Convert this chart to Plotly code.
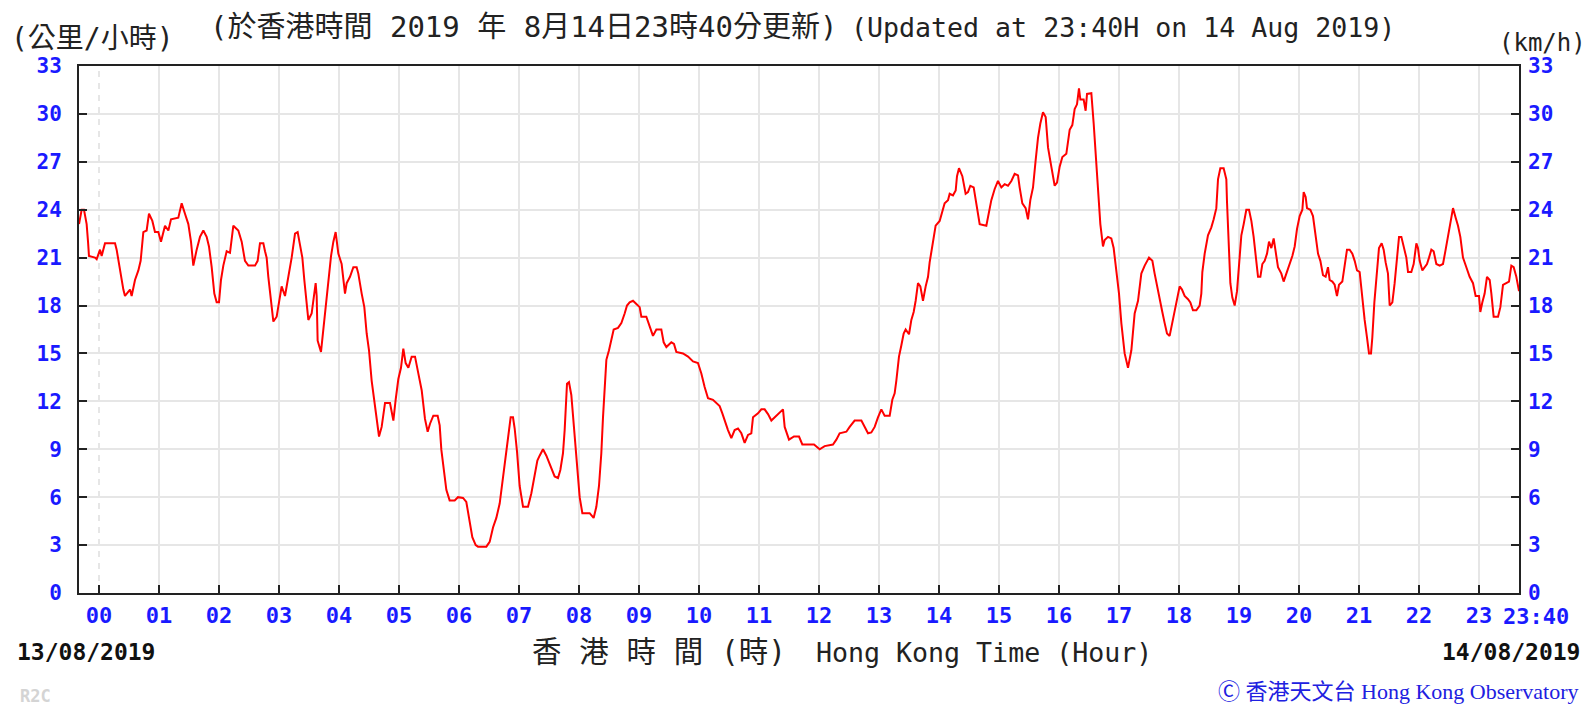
import plotly.graph_objects as go

# ---------------- data (hour of day on 14/08/2019, wind speed km/h) ----------------
time_hours = [
    -0.333, -0.289, -0.25, -0.206, -0.183, -0.167, -0.067, -0.039, 0.017, 0.044, 0.1, 0.267, 0.294,
    0.333, 0.378, 0.406, 0.433, 0.517, 0.544, 0.6, 0.656, 0.694, 0.739, 0.794, 0.833, 0.889, 0.933,
    0.989, 1.033, 1.061, 1.1, 1.156, 1.2, 1.322, 1.378, 1.433, 1.489, 1.533, 1.572, 1.628, 1.683,
    1.739, 1.794, 1.833, 1.878, 1.922, 1.961, 2.0, 2.033, 2.072, 2.128, 2.183, 2.239, 2.322, 2.378,
    2.433, 2.489, 2.6, 2.644, 2.683, 2.739, 2.767, 2.794, 2.822, 2.867, 2.906, 2.961, 3.0, 3.044,
    3.1, 3.156, 3.211, 3.267, 3.311, 3.35, 3.389, 3.422, 3.461, 3.489, 3.544, 3.572, 3.611, 3.628,
    3.644, 3.7, 3.739, 3.778, 3.822, 3.867, 3.906, 3.944, 3.989, 4.044, 4.1, 4.128, 4.183, 4.239,
    4.294, 4.322, 4.378, 4.422, 4.461, 4.5, 4.544, 4.589, 4.628, 4.667, 4.711, 4.767, 4.85, 4.906,
    4.944, 4.989, 5.033, 5.072, 5.111, 5.156, 5.211, 5.267, 5.322, 5.378, 5.433, 5.478, 5.517,
    5.572, 5.644,
    5.678, 5.706, 5.744, 5.789, 5.844, 5.928, 5.983, 6.067, 6.122, 6.167, 6.222, 6.278, 6.317,
    6.456, 6.511, 6.567, 6.622, 6.678, 6.733, 6.778, 6.817, 6.861, 6.9, 6.928, 6.967, 7.011, 7.067,
    7.15, 7.206, 7.261, 7.306, 7.344, 7.4, 7.456, 7.511, 7.594, 7.65, 7.689, 7.733, 7.761, 7.8,
    7.833, 7.872, 7.911, 7.956, 8.011, 8.056, 8.178, 8.244, 8.289, 8.333, 8.372, 8.4, 8.428, 8.456,
    8.5, 8.539, 8.578, 8.65, 8.706, 8.761, 8.8, 8.844, 8.9, 8.956, 9.011, 9.039, 9.122, 9.178,
    9.233, 9.289, 9.372, 9.411, 9.456, 9.539, 9.583, 9.622, 9.733, 9.817, 9.9, 9.983, 10.039,
    10.094, 10.15, 10.233, 10.289, 10.344, 10.389, 10.444, 10.483, 10.539, 10.594, 10.65, 10.706,
    10.761, 10.817, 10.872, 10.9, 10.983, 11.039, 11.094, 11.15, 11.206, 11.261, 11.344, 11.4,
    11.428, 11.5, 11.583, 11.667, 11.722, 11.917,
    12.011, 12.094, 12.233, 12.289, 12.344, 12.456, 12.511, 12.594, 12.706, 12.761, 12.817, 12.872,
    12.928, 12.983, 13.039, 13.094, 13.178, 13.222, 13.261, 13.289, 13.333, 13.372, 13.411, 13.444,
    13.5, 13.539, 13.578, 13.611, 13.65, 13.689, 13.733, 13.778, 13.817, 13.844, 13.889, 13.944,
    14.011, 14.056, 14.094, 14.15, 14.178, 14.233, 14.278, 14.3, 14.333, 14.389, 14.444, 14.483,
    14.522, 14.578, 14.622, 14.678, 14.789, 14.833, 14.872, 14.928, 14.983, 15.039, 15.094, 15.15,
    15.206, 15.261, 15.317, 15.344, 15.389, 15.444, 15.483, 15.522, 15.567, 15.611, 15.65, 15.689,
    15.733, 15.778, 15.817, 15.872, 15.928, 15.967, 16.011, 16.056, 16.122, 16.178, 16.222, 16.261,
    16.3, 16.333, 16.356, 16.411, 16.444, 16.467, 16.539, 16.578, 16.611, 16.65, 16.689, 16.733,
    16.761, 16.817, 16.872, 16.911, 16.956, 17.0, 17.039, 17.094, 17.15, 17.206, 17.261, 17.317,
    17.372, 17.428, 17.5,
    17.556, 17.594, 17.633, 17.678, 17.722, 17.761, 17.8, 17.844, 17.889, 17.928, 17.967, 18.011,
    18.05, 18.094, 18.15, 18.189, 18.233, 18.289, 18.344, 18.372, 18.389, 18.428, 18.483, 18.539,
    18.578, 18.622, 18.65, 18.689, 18.744, 18.789, 18.8, 18.833, 18.856, 18.889, 18.928, 18.967,
    19.0, 19.039, 19.078, 19.122, 19.167, 19.206, 19.244, 19.278, 19.317, 19.356, 19.389, 19.428,
    19.467, 19.5, 19.539, 19.578, 19.611, 19.65, 19.706, 19.744, 19.789, 19.844, 19.889, 19.928,
    19.967, 20.011, 20.056, 20.078, 20.111, 20.133, 20.189, 20.233, 20.278, 20.317, 20.356, 20.4,
    20.444, 20.483, 20.511, 20.556, 20.594, 20.633, 20.667, 20.722, 20.761, 20.8, 20.844, 20.889,
    20.928, 20.967, 21.011, 21.056, 21.094, 21.133, 21.167, 21.2, 21.222, 21.256, 21.289, 21.333,
    21.378, 21.411, 21.444, 21.483, 21.511, 21.556, 21.594, 21.633, 21.667, 21.706, 21.744, 21.789,
    21.817, 21.872, 21.911, 21.956, 21.983, 22.011, 22.056, 22.094, 22.133, 22.167, 22.206, 22.244,
    22.289, 22.344, 22.4, 22.444, 22.483, 22.528, 22.567, 22.611, 22.65, 22.689, 22.733, 22.789,
    22.844, 22.9, 22.944, 23.0, 23.022, 23.056, 23.094, 23.133, 23.178, 23.206, 23.244, 23.317,
    23.356, 23.4, 23.444, 23.5, 23.539, 23.578, 23.622, 23.667,
]

wind_kmh = [
    23.1, 24.0, 24.0, 23.1, 22.0, 21.1, 21.0, 20.9, 21.5, 21.1, 21.9, 21.9, 21.5,
    20.6, 19.8, 19.0, 18.6, 19.0, 18.6, 19.6, 20.2, 20.8, 22.6, 22.7, 23.75, 23.3, 22.6,
    22.6, 22.0, 22.4, 23.0, 22.7, 23.4, 23.5, 24.4, 23.75, 23.1, 22.0, 20.5, 21.5, 22.3,
    22.7, 22.3, 21.7, 20.4, 18.75, 18.2, 18.2, 19.6, 20.5, 21.4, 21.3, 23.0, 22.7, 22.0,
    20.8, 20.5, 20.5, 20.8, 21.9, 21.9, 21.4, 21.0, 19.8, 18.2, 17.0, 17.3, 18.3, 19.2,
    18.6, 19.8, 21.0, 22.5, 22.6, 21.8, 21.0, 19.6, 17.9, 17.1, 17.5, 18.3, 19.4, 18.6,
    15.8, 15.1, 16.5, 17.7, 19.1, 21.1, 22.0, 22.6, 21.25, 20.6, 18.75, 19.4, 19.8, 20.4,
    20.4, 20.0, 18.75, 17.9, 16.25, 15.2, 13.3, 12.0, 10.8, 9.8, 10.4, 11.9, 11.9, 10.8,
    12.1, 13.4, 14.1, 15.3, 14.4, 14.1, 14.8, 14.8, 13.75, 12.7, 10.9, 10.1, 10.6,
    11.1, 11.1,
    10.5, 8.96, 7.7, 6.46, 5.8, 5.8, 6.0, 5.95, 5.7, 4.6, 3.5, 3.0, 2.9,
    2.9, 3.2, 4.1, 4.7, 5.6, 7.2, 8.75, 9.8, 11.0, 11.0, 10.3, 8.85, 6.7, 5.4,
    5.4, 6.25, 7.3, 8.3, 8.6, 9.0, 8.6, 8.1, 7.3, 7.2, 7.7, 8.75, 10.2, 13.1,
    13.2, 12.4, 10.6, 8.75, 6.0, 5.0, 5.0, 4.7, 5.4, 6.7, 8.75, 11.0, 12.7, 14.6,
    15.2, 15.8, 16.5, 16.6, 16.9, 17.5, 18.0, 18.2, 18.3, 18.1, 17.9, 17.3, 17.3, 16.7,
    16.1, 16.5, 16.5, 15.7, 15.4, 15.7, 15.6, 15.1, 15.0, 14.8, 14.5, 14.4, 13.75,
    12.9, 12.2, 12.1, 11.9, 11.7, 11.25, 10.6, 10.2, 9.7, 10.2, 10.3, 10.0,
    9.4, 9.9, 10.0, 11.0, 11.25, 11.5, 11.5, 11.2, 10.8, 11.0, 11.25, 11.5,
    10.4, 9.6, 9.8, 9.8, 9.3, 9.3,
    9.0, 9.2, 9.3, 9.6, 10.0, 10.1, 10.4, 10.8, 10.8, 10.4, 10.0, 10.05,
    10.4, 11.0, 11.5, 11.1, 11.1, 12.1, 12.5, 13.3, 14.8, 15.5, 16.25, 16.5,
    16.2, 17.1, 17.6, 18.3, 19.4, 19.2, 18.3, 19.2, 19.8, 20.7, 21.8, 23.0,
    23.3, 23.9, 24.4, 24.6, 25.0, 24.9, 25.2, 26.1, 26.6, 26.1, 25.0, 25.1,
    25.5, 25.4, 24.4, 23.1, 23.0, 24.0, 24.6, 25.3, 25.8, 25.4, 25.6, 25.5,
    25.8, 26.25, 26.15, 25.4, 24.4, 24.1, 23.4, 24.6, 25.4, 27.1, 28.5, 29.4,
    30.1, 29.8, 27.9, 26.7, 25.5, 25.7, 26.7, 27.3, 27.5, 29.0, 29.3, 30.3,
    30.6, 31.6, 30.9, 30.9, 30.2, 31.25, 31.3, 29.4, 27.3, 24.8, 23.1, 21.7,
    22.1, 22.3, 22.2, 21.6, 20.2, 18.75, 16.9, 15.0, 14.1, 15.2, 17.5, 18.3,
    20.0, 20.5, 21.0,
    20.8, 20.0, 19.2, 18.3, 17.6, 16.9, 16.25, 16.1, 16.9, 17.6, 18.3, 19.2,
    19.0, 18.6, 18.4, 18.2, 17.7, 17.7, 18.0, 18.75, 20.1, 21.25, 22.4, 22.9,
    23.4, 24.1, 25.9, 26.6, 26.6, 25.9, 24.5, 21.7, 19.4, 18.5, 18.0, 18.9,
    20.5, 22.4, 23.1, 24.0, 24.0, 23.3, 22.3, 21.0, 19.8, 19.8, 20.6, 20.8,
    21.25, 22.0, 21.6, 22.2, 21.35, 20.4, 20.0, 19.5, 20.0, 20.6, 21.1, 21.7,
    22.8, 23.6, 24.0, 25.1, 24.8, 24.1, 24.0, 23.6, 22.5, 21.25, 20.8, 19.9,
    19.8, 20.4, 19.6, 19.5, 19.3, 18.6, 19.3, 19.5, 20.5, 21.5, 21.5, 21.25,
    20.8, 20.2, 20.1, 18.2, 17.1, 16.0, 15.0, 15.0, 16.0, 18.2, 19.5, 21.6,
    21.9, 21.5, 20.7, 20.0, 18.0, 18.2, 19.4, 21.0, 22.3, 22.3, 21.7, 21.0,
    20.1, 20.1, 20.6, 21.9, 21.6, 20.8, 20.2, 20.4, 20.6, 21.0, 21.5, 21.4,
    20.6, 20.5, 20.6, 21.5, 22.4, 23.2, 24.1, 23.5, 23.0, 22.3, 21.0, 20.4,
    19.8, 19.4, 18.6, 18.6, 17.6, 18.2, 18.75, 19.8, 19.6, 18.75, 17.3, 17.3,
    17.9, 19.3, 19.4, 19.5, 20.5, 20.4, 19.8, 18.9,
]

hour_ticks = list(range(0, 24))
hour_labels = [f"{h:02d}" for h in hour_ticks]
end_label = "23:40"
x_range = [-1 / 3, 23 + 2 / 3]
speed_ticks = list(range(0, 34, 3))
speed_labels = [str(v) for v in speed_ticks]

title_zh = "(於香港時間 2019 年 8月14日23時40分更新)"
title_en = "(Updated at 23:40H on 14 Aug 2019)"
unit_zh = "(公里/小時)"
unit_en = "(km/h)"
xtitle_zh = "香\u00a0港\u00a0時\u00a0間\u00a0(時)"
xtitle_en = "Hong Kong Time (Hour)"
date_start = "13/08/2019"
date_end = "14/08/2019"
code_text = "R2C"
credit_text = "Ⓒ 香港天文台 Hong Kong Observatory"

# ---------------- layout geometry (pixels) ----------------
W, H = 1589, 706
L, T = 79, 66
PW, PH = 1440, 527
R, B = W - L - PW, H - T - PH


def px(x):
    """window x (pixels) -> paper x"""
    return (x - L) / PW


def py(y):
    """window y (pixels) -> paper y"""
    return (T + PH - y) / PH


BLUE = "#1a1aff"
MONO = "DejaVu Sans Mono, Noto Sans CJK TC"
FRAME = "#222222"
GRID = "#e6e6e6"

fig = go.Figure()
fig.add_trace(go.Scatter(
    x=time_hours, y=wind_kmh, mode="lines",
    line=dict(color="#ff0000", width=2), hoverinfo="skip", showlegend=False,
))
# carrier for the right-hand axis (invisible)
fig.add_trace(go.Scatter(
    x=time_hours, y=wind_kmh, mode="lines", yaxis="y2",
    line=dict(color="rgba(0,0,0,0)", width=0), hoverinfo="skip", showlegend=False,
))

tickfont = dict(family=MONO, size=21, color=BLUE, weight="bold")

fig.update_layout(
    width=W, height=H,
    margin=dict(l=L, r=R, t=T, b=B, pad=0),
    paper_bgcolor="white", plot_bgcolor="white",
    showlegend=False,
    xaxis=dict(
        range=x_range, tickvals=hour_ticks, ticktext=hour_labels,
        ticks="inside", ticklen=8, tickwidth=2, tickcolor=FRAME,
        showline=True, linecolor=FRAME, linewidth=2, mirror=True,
        showgrid=False, zeroline=False,
        tickfont=dict(family=MONO, size=22, color=BLUE, weight="bold"),
        ticklabelstandoff=2,
    ),
    yaxis=dict(
        range=[0, 33], tickvals=speed_ticks, ticktext=speed_labels,
        ticks="inside", ticklen=8, tickwidth=2, tickcolor=FRAME,
        showline=True, linecolor=FRAME, linewidth=2, mirror=True,
        showgrid=True, gridcolor=GRID, gridwidth=2, zeroline=False,
        tickfont=tickfont, ticklabelstandoff=11,
    ),
    yaxis2=dict(
        range=[0, 33], tickvals=speed_ticks, ticktext=speed_labels,
        overlaying="y", side="right", anchor="x",
        ticks="inside", ticklen=8, tickwidth=2, tickcolor=FRAME,
        showline=False, showgrid=False, zeroline=False,
        tickfont=tickfont, ticklabelstandoff=8,
    ),
)

# vertical hour grid lines (dashed at the day boundary)
for h in hour_ticks:
    fig.add_shape(
        type="line", xref="x", yref="paper", x0=h, x1=h, y0=0, y1=1,
        line=dict(color=GRID, width=2, dash="6px,6px" if h == 0 else "solid"),
        layer="below",
    )


def note(text, x, y, xanchor="left", size=26, color="#222222", family=MONO, weight="normal"):
    fig.add_annotation(
        text=text, xref="paper", yref="paper", x=px(x), y=py(y),
        xanchor=xanchor, yanchor="middle", showarrow=False,
        font=dict(family=family, size=size, color=color, weight=weight),
    )


note(title_zh, 208, 27, xanchor="left", size=29)
note(title_en, 849, 27, xanchor="left", size=26.6)
note(unit_zh, 9, 39, xanchor="left", size=28)
note(unit_en, 1588, 43, xanchor="right", size=24)
note(xtitle_zh, 659, 652, xanchor="center", size=29.5)
note(xtitle_en, 814, 652, xanchor="left", size=26.6)
note(date_start, 15, 652, xanchor="left", size=23, weight="bold", color="#111111")
note(date_end, 1582, 652, xanchor="right", size=23, weight="bold", color="#111111")
note(code_text, 18, 696, xanchor="left", size=17, weight="bold", color="#d4d4d4")
note(credit_text, 1581, 691, xanchor="right", size=22, color="#2020e0",
     family="Liberation Serif, Noto Sans CJK TC")
note(end_label, 1536, 616, xanchor="center", size=22, weight="bold", color=BLUE)

# the page body would otherwise add an 8px margin around the figure
fig.write_html(
    "out.html",
    config={"displayModeBar": False},
    post_script="document.body.style.margin='0px';",
)
